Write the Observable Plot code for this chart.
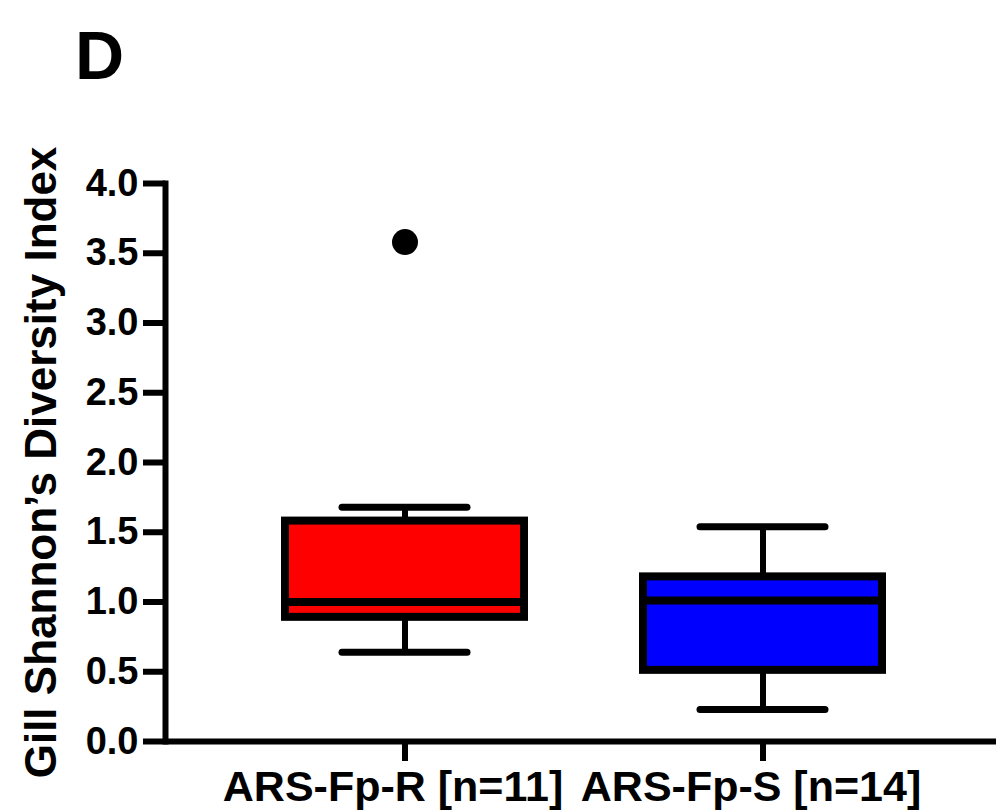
<!DOCTYPE html>
<html>
<head>
<meta charset="utf-8">
<script src="https://cdn.jsdelivr.net/npm/d3@7"></script>
<script src="https://cdn.jsdelivr.net/npm/@observablehq/plot@0.6"></script>
<style>
  html, body { margin: 0; padding: 0; background: #fff; }
  #wrap { position: relative; width: 996px; height: 812px; }
  #panel { position: absolute; left: 75px; top: 21px; font: bold 68px "Liberation Sans", Arial, sans-serif; line-height: 1; color: #000; }
</style>
</head>
<body>
<div id="wrap">
  <div id="chart"></div>
  <div id="panel">D</div>
</div>
<script>
// --- data ---
const groups = ["ARS-Fp-R [n=11]", "ARS-Fp-S [n=14]"];
const fills = ["#ff0000", "#0000ff"];
const whiskerLow = [0.64, 0.23];
const q1 = [0.89, 0.51];
const median = [1.0, 1.01];
const q3 = [1.58, 1.18];
const whiskerHigh = [1.68, 1.54];
const outlierGroups = ["ARS-Fp-R [n=11]"];
const outlierValues = [3.58];
const yTicks = [0, 0.5, 1, 1.5, 2, 2.5, 3, 3.5, 4];
const yLabel = "Gill Shannon\u2019s Diversity Index";

const boxes = groups.map((g, i) => ({
  group: g, fill: fills[i], low: whiskerLow[i], q1: q1[i], median: median[i], q3: q3[i], high: whiskerHigh[i]
}));
const outliers = outlierGroups.map((g, i) => ({group: g, value: outlierValues[i]}));

const chart = Plot.plot({
  width: 996,
  height: 812,
  marginLeft: 165,
  marginRight: 0,
  marginTop: 183,
  marginBottom: 71,
  style: {fontFamily: "'Liberation Sans', Arial, sans-serif", fontWeight: "bold", fontSize: "38px", color: "#000", background: "#fff", overflow: "visible"},
  x: {domain: groups, paddingInner: 0.332, paddingOuter: 0.3265, align: 0.511, axis: null},
  y: {domain: [0, 4], axis: null},
  marks: [
    Plot.ruleX(boxes, {x: "group", y1: "low", y2: "high", stroke: "#000", strokeWidth: 6}),
    Plot.tickY(boxes, {x: "group", y: "low", stroke: "#000", strokeWidth: 7, strokeLinecap: "round", insetLeft: 57, insetRight: 57}),
    Plot.tickY(boxes, {x: "group", y: "high", stroke: "#000", strokeWidth: 7, strokeLinecap: "round", insetLeft: 57, insetRight: 57}),
    Plot.barY(boxes, {x: "group", y1: "q1", y2: "q3", fill: "fill", stroke: "#000", strokeWidth: 8}),
    Plot.tickY(boxes, {x: "group", y: "median", stroke: "#000", strokeWidth: 8}),
    Plot.dot(outliers, {x: "group", y: "value", r: 13, fill: "#000", stroke: "none"}),
    Plot.axisY({ticks: yTicks, tickFormat: d3.format(".1f"), tickSize: 22, tickPadding: 5, strokeWidth: 6, fontSize: 38,
      label: null}),
    Plot.axisY({ticks: [], tickSize: 0, label: yLabel, labelAnchor: "center", labelArrow: "none", labelOffset: 141, fontSize: 44}),
    Plot.axisX({tickSize: 20, strokeWidth: 6, text: null, label: null}),
    Plot.axisX({tickSize: 0, tickPadding: 29, label: null, fontSize: 43, dx: -12}),
    Plot.ruleY([0], {stroke: "#000", strokeWidth: 6}),
    Plot.frame({anchor: "left", stroke: "#000", strokeWidth: 6})
  ]
});
document.getElementById("chart").appendChild(chart);
</script>
</body>
</html>
